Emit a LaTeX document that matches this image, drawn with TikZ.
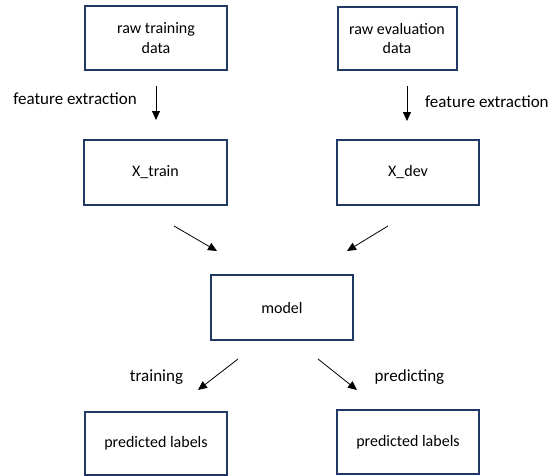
\documentclass[tikz,border=0pt]{standalone}
\usepackage{fontspec}
\setmainfont{Carlito}
\usetikzlibrary{arrows.meta}
\definecolor{boxblue}{RGB}{32,56,100}
\begin{document}
\begin{tikzpicture}[x=1pt,y=-1pt,
  box/.style={draw=boxblue, line width=2pt, fill=white, inner sep=0pt, align=center,
    font=\fontsize{16}{19.5}\selectfont},
  lbl/.style={inner sep=0pt, font=\fontsize{17}{20}\selectfont},
  arr/.style={line width=0.8pt, -{Triangle[length=9pt,width=8pt]}}]
\useasboundingbox (0,0) rectangle (552,475);
\node[box, minimum width=142pt, minimum height=64pt] (raw) at (156,38) {raw training\\data};
\node[box, minimum width=119pt, minimum height=63pt] (rawe) at (397,38.5) {raw evaluation\\data};
\node[box, minimum width=143pt, minimum height=65pt] (xtr) at (155.5,172.5) {X\_train};
\node[box, minimum width=142pt, minimum height=65pt] (xdev) at (408,172.5) {X\_dev};
\node[box, minimum width=142pt, minimum height=65pt] (model) at (282,307.5) {model};
\node[box, minimum width=142pt, minimum height=63pt] (pl1) at (156,443.5) {predicted labels};
\node[box, minimum width=142pt, minimum height=64pt] (pl2) at (408,442) {predicted labels};
% label text
\node[lbl] (fe1) at (75,99) {feature extraction};
\node[lbl, anchor=west] (fe2) at (425,102) {feature extraction};
\node[lbl] (tr) at (156.5,377) {training};
\node[lbl] (pr) at (409.5,377) {predicting};
% coordinates
\coordinate (a1s) at (156,86);   \coordinate (a1e) at (156,120);
\coordinate (a2s) at (407,86);   \coordinate (a2e) at (407,121);
\coordinate (a3s) at (174,226);  \coordinate (a3e) at (217,251);
\coordinate (a4s) at (388,226);  \coordinate (a4e) at (347,251);
\coordinate (a5s) at (238,359);  \coordinate (a5e) at (198,390);
\coordinate (a6s) at (318,359);  \coordinate (a6e) at (357,390);
\draw[arr] (a1s) -- (a1e);
\draw[arr] (a2s) -- (a2e);
\draw[arr] (a3s) -- (a3e);
\draw[arr] (a4s) -- (a4e);
\draw[arr] (a5s) -- (a5e);
\draw[arr] (a6s) -- (a6e);
\end{tikzpicture}
\end{document}
